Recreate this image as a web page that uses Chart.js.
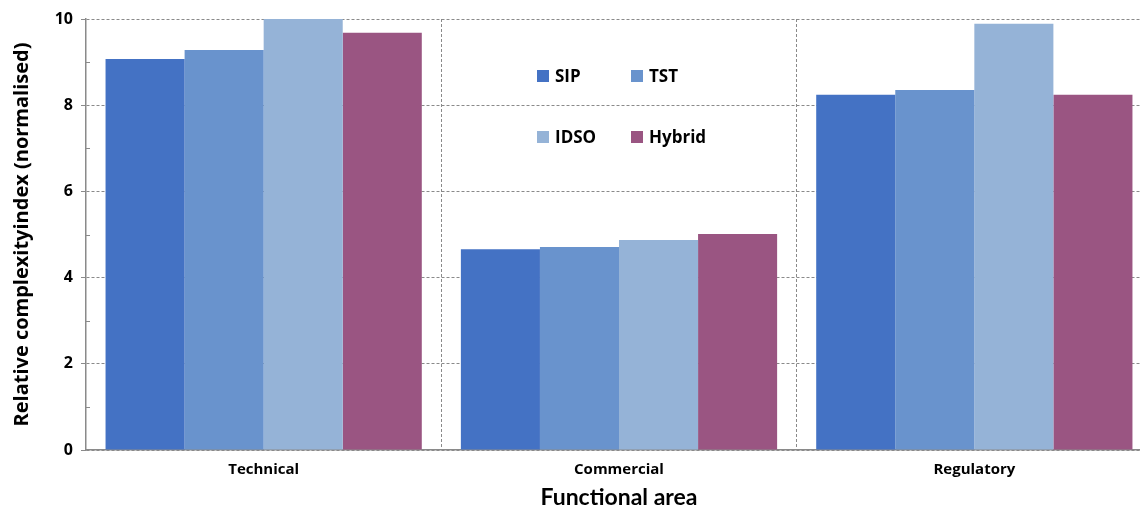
<!DOCTYPE html>
<html>
<head>
<meta charset="utf-8">
<script src="https://cdn.jsdelivr.net/npm/chart.js@4/dist/chart.umd.min.js"></script>
<style>
  html, body { margin: 0; padding: 0; background: #fff; overflow: hidden; }
  #wrap { width: 1152px; height: 509px; }
</style>
</head>
<body>
<div id="wrap"><canvas id="chart" width="1152" height="509"></canvas></div>
<script>
// Datos
const categories = ['Technical', 'Commercial', 'Regulatory'];
const seriesNames = ['SIP', 'TST', 'IDSO', 'Hybrid'];
const sipValues = [9.07, 4.66, 8.24];
const tstValues = [9.28, 4.71, 8.35];
const idsoValues = [10.0, 4.87, 9.89];
const hybridValues = [9.68, 5.01, 8.24];
const yTicks = [0, 2, 4, 6, 8, 10];
const yMinorTicks = [1, 3, 5, 7, 9];

const colors = ['#4472C4', '#6993CD', '#95B3D7', '#9A5582'];
const gridGrey = '#8a8a8a';

const datasets = [sipValues, tstValues, idsoValues, hybridValues].map((vals, i) => ({
    label: seriesNames[i],
    data: vals,
    backgroundColor: colors[i],
    borderWidth: 0,
    categoryPercentage: 0.89,
    barPercentage: 1.0
}));

// Marcas menores hacia dentro en el eje Y
const minorTicksPlugin = {
    id: 'minorTicks',
    afterDraw(chart) {
        const y = chart.scales.y;
        const ctx = chart.ctx;
        ctx.save();
        ctx.strokeStyle = gridGrey;
        ctx.lineWidth = 1;
        for (const v of yMinorTicks) {
            const py = Math.round(y.getPixelForValue(v)) + 0.5;
            ctx.beginPath();
            ctx.moveTo(chart.chartArea.left, py);
            ctx.lineTo(chart.chartArea.left + 4, py);
            ctx.stroke();
        }
        ctx.restore();
    }
};

// Leyenda 2x2 dentro del area
const legendPlugin = {
    id: 'gridLegend',
    afterDraw(chart) {
        const ctx = chart.ctx;
        const cols = [537, 631];
        const rows = [76, 137];
        ctx.save();
        ctx.font = 'bold 17px "Open Sans", sans-serif';
        ctx.textBaseline = 'middle';
        chart.data.datasets.forEach((ds, i) => {
            const x = cols[i % 2];
            const y = rows[Math.floor(i / 2)];
            ctx.fillStyle = ds.backgroundColor;
            ctx.fillRect(x, y - 6, 12, 12);
            ctx.fillStyle = '#000';
            ctx.fillText(ds.label, x + 18, y + 1);
        });
        ctx.restore();
    }
};

new Chart(document.getElementById('chart'), {
    type: 'bar',
    data: { labels: categories, datasets },
    plugins: [minorTicksPlugin, legendPlugin],
    options: {
        responsive: false,
        animation: false,
        layout: { padding: { top: 19, right: 0, left: 0, bottom: 0 } },
        plugins: { legend: { display: false }, tooltip: { enabled: false } },
        scales: {
            x: {
                grid: { offset: true, color: gridGrey, lineWidth: 1, drawTicks: false },
                border: { display: true, color: gridGrey, width: 1.5, dash: [3, 2] },
                ticks: { color: '#000', padding: 11, font: { family: 'Open Sans', weight: 'bold', size: 15 } },
                title: {
                    display: true, text: 'Functional area', color: '#000',
                    padding: 0, font: { family: 'Lato', weight: 'bold', size: 23, lineHeight: 1 }
                },
                afterFit(scale) { scale.height = 59; }
            },
            y: {
                min: 0, max: 10,
                afterBuildTicks(scale) { scale.ticks = yTicks.map(v => ({ value: v })); },
                grid: { color: gridGrey, lineWidth: 1, tickLength: 5 },
                border: { display: true, color: gridGrey, width: 1.5, dash: [3, 2] },
                ticks: { color: '#000', padding: 8, font: { family: 'Open Sans', weight: 'bold', size: 16 } },
                title: {
                    display: true, text: 'Relative complexityindex (normalised)', color: '#000',
                    padding: 0, font: { family: 'Open Sans', weight: 'bold', size: 20, lineHeight: '44px' }
                },
                afterFit(scale) { scale.width = 86; }
            }
        }
    }
});
</script>
</body>
</html>
